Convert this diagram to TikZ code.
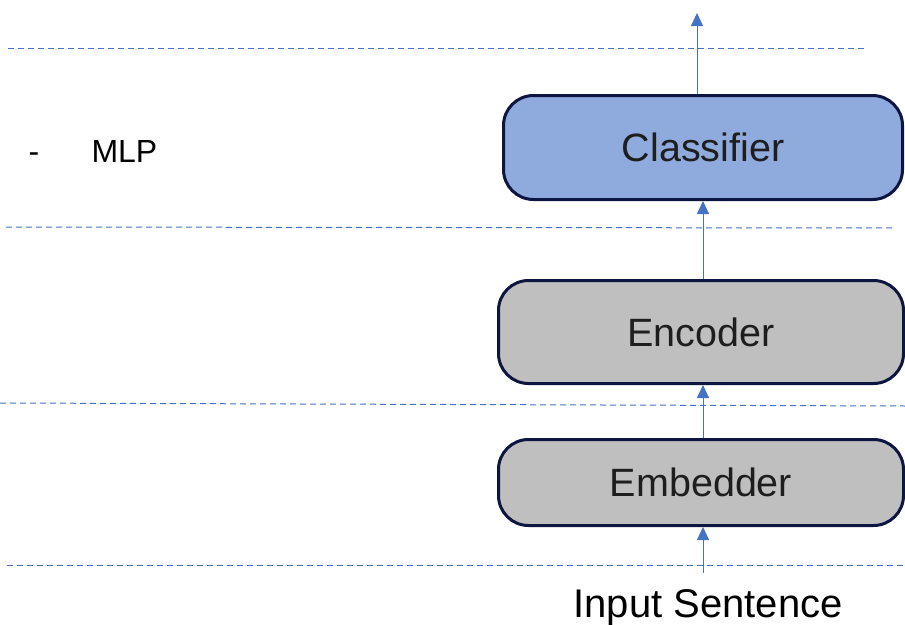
\documentclass[tikz,border=0pt]{standalone}
\usepackage{fontspec}
\setmainfont{Liberation Sans}
\usetikzlibrary{arrows.meta}
\definecolor{arrblue}{RGB}{68,114,196}
\definecolor{boxblue}{RGB}{143,170,220}
\definecolor{boxgray}{RGB}{191,191,191}
\definecolor{navy}{RGB}{12,22,64}
\definecolor{txt}{RGB}{30,30,30}
\tikzset{
  blockbox/.style={draw=navy, line width=3pt, rounded corners=30pt, inner sep=0pt,
    font=\fontsize{39.5}{42}\selectfont, text=txt},
  arr/.style={draw=arrblue, line width=1pt, -{Triangle[length=13pt,width=12pt]}},
  sepline/.style={draw=arrblue, line width=1pt, dash pattern=on 6pt off 4pt}
}
\begin{document}
\begin{tikzpicture}[x=1pt,y=-1pt]
\useasboundingbox (0,0) rectangle (905,624);
% separator lines
\draw[sepline] (8,48) -- (865,48);
\draw[sepline] (6,227) -- (895,228);
\draw[sepline] (0,403) -- (905,406);
\draw[sepline] (7,565) -- (905,565);
% boxes
\node[blockbox, fill=boxblue, minimum width=399pt, minimum height=104pt] (cls) at (703,147.5) {Classifier};
\node[blockbox, fill=boxgray, minimum width=405pt, minimum height=103pt] (enc) at (701,332) {Encoder};
\node[blockbox, fill=boxgray, minimum width=405pt, minimum height=86pt] (emb) at (701,482.5) {Embedder};
% texts
\node[anchor=base, font=\fontsize{40}{42}\selectfont, text=black] (inp) at (708,617) {Input Sentence};
\node[anchor=base west, font=\fontsize{32}{36}\selectfont, text=black] (dash) at (25,162) {-};
\node[anchor=base west, font=\fontsize{32}{36}\selectfont, text=black] (mlp) at (88,162) {MLP};
% arrows
\coordinate (outtop) at (697,13);
\coordinate (instart) at (703,573);
\draw[arr] (cls.north -| outtop) -- (outtop);
\draw[arr] (enc.north -| cls.center) -- (cls.south);
\draw[arr] (emb.north -| cls.center) -- (enc.south -| cls.center);
\draw[arr] (instart) -- (emb.south -| instart);
\end{tikzpicture}
\end{document}
